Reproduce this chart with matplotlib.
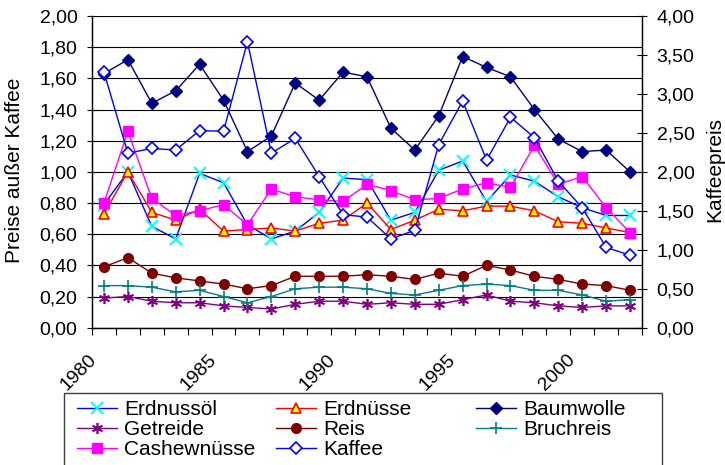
import matplotlib
matplotlib.use("Agg")
import matplotlib.pyplot as plt
from matplotlib.ticker import FuncFormatter, FixedLocator
from matplotlib.patches import Rectangle
from matplotlib.transforms import ScaledTranslation

plt.rcParams['font.family'] = ['Liberation Sans', 'DejaVu Sans']

years = list(range(1980, 2003))
year_labels = ['1980', '1985', '1990', '1995', '2000']

# Preise (linke Achse)
erdnussoel = [0.79, 1.00, 0.65, 0.57, 0.99, 0.93, 0.66, 0.57, 0.62, 0.74, 0.96, 0.95,
              0.69, 0.74, 1.01, 1.07, 0.81, 0.98, 0.94, 0.84, 0.77, 0.72, 0.72]
erdnuesse = [0.73, 1.00, 0.74, 0.69, 0.76, 0.62, 0.63, 0.64, 0.62, 0.67, 0.69, 0.80,
             0.63, 0.69, 0.76, 0.75, 0.78, 0.78, 0.75, 0.68, 0.67, 0.64, 0.61]
baumwolle = [1.63, 1.72, 1.44, 1.52, 1.69, 1.46, 1.13, 1.23, 1.57, 1.46, 1.64, 1.61,
             1.28, 1.14, 1.36, 1.74, 1.67, 1.61, 1.40, 1.21, 1.13, 1.14, 1.00]
getreide = [0.19, 0.20, 0.17, 0.16, 0.16, 0.14, 0.13, 0.12, 0.15, 0.17, 0.17, 0.15,
            0.16, 0.15, 0.15, 0.18, 0.21, 0.17, 0.16, 0.14, 0.13, 0.14, 0.14]
reis = [0.39, 0.45, 0.35, 0.32, 0.30, 0.28, 0.25, 0.27, 0.33, 0.33, 0.33, 0.34,
        0.33, 0.31, 0.35, 0.33, 0.40, 0.37, 0.33, 0.31, 0.28, 0.27, 0.24]
bruchreis = [0.27, 0.27, 0.26, 0.23, 0.24, 0.20, 0.16, 0.20, 0.25, 0.26, 0.26, 0.25,
             0.22, 0.21, 0.24, 0.27, 0.28, 0.27, 0.24, 0.24, 0.21, 0.17, 0.18]
cashew = [0.80, 1.26, 0.83, 0.72, 0.75, 0.79, 0.66, 0.89, 0.84, 0.82, 0.81, 0.92,
          0.88, 0.82, 0.83, 0.89, 0.93, 0.90, 1.17, 0.92, 0.97, 0.77, 0.61]
# Kaffeepreis (rechte Achse)
kaffee = [3.28, 2.24, 2.30, 2.28, 2.53, 2.52, 3.67, 2.24, 2.43, 1.94, 1.45, 1.42,
          1.14, 1.25, 2.35, 2.91, 2.15, 2.70, 2.44, 1.88, 1.54, 1.03, 0.93]

x = list(range(len(years)))

fig = plt.figure(figsize=(7.25, 4.65), dpi=100)
ax1 = fig.add_axes([92/725, 1-327.7/465, 550/725, 311.7/465])
ax2 = ax1.twinx()

lw = 1.0
ms = 7
h_oel, = ax1.plot(x, erdnussoel, color='#0000FF', lw=lw, marker='x', ms=8, mec='#00FFFF', mew=1.4, label='Erdnussöl')
h_nuss, = ax1.plot(x, erdnuesse, color='#FF0000', lw=lw, marker='^', ms=ms, mfc='#FFFF00', mec='#FF0000', mew=1.2, label='Erdnüsse')
h_baum, = ax1.plot(x, baumwolle, color='#000080', lw=lw, marker='D', ms=6, mfc='#000080', mec='#000080', label='Baumwolle')
h_getr, = ax1.plot(x, getreide, color='#800080', lw=lw, marker=(6, 2, 0), ms=8, mec='#800080', mew=1.2, label='Getreide')
h_reis, = ax1.plot(x, reis, color='#800000', lw=lw, marker='o', ms=ms, mfc='#800000', mec='#800000', label='Reis')
h_bruch, = ax1.plot(x, bruchreis, color='#008080', lw=lw, marker='+', ms=8, mec='#008080', mew=1.2, label='Bruchreis')
h_cash, = ax1.plot(x, cashew, color='#FF00FF', lw=lw, marker='s', ms=ms, mfc='#FF00FF', mec='#FF00FF', label='Cashewnüsse')
h_kaf, = ax2.plot(x, kaffee, color='#0000FF', lw=lw, marker='D', ms=6, mfc='white', mec='#0000FF', mew=1.2, label='Kaffee')

comma = FuncFormatter(lambda v, p: f"{v:.2f}".replace('.', ','))

ax1.set_xlim(-0.5, len(x) - 0.5)
ax1.set_ylim(0, 2.0)
ax2.set_ylim(0, 4.0)
ax1.set_yticks([i * 0.2 for i in range(11)])
ax2.set_yticks([i * 0.5 for i in range(9)])
ax1.yaxis.set_major_formatter(comma)
ax2.yaxis.set_major_formatter(comma)

ax1.xaxis.set_major_locator(FixedLocator([years.index(int(y)) for y in year_labels]))
ax1.set_xticklabels(year_labels, rotation=45, ha='right', va='center', rotation_mode='anchor')
ax1.xaxis.set_minor_locator(FixedLocator([i - 0.5 for i in range(len(x) + 1)]))
ax1.tick_params(axis='x', which='major', length=0, pad=21, labelsize=14)
ax1.tick_params(axis='x', which='minor', length=5, width=0.8, direction='out')
ax1.tick_params(axis='y', direction='inout', length=7, width=0.8, pad=7, labelsize=14)
ax2.tick_params(axis='y', direction='inout', length=7, width=0.8, pad=7, labelsize=14)
shift = ScaledTranslation(-0.1, 0, fig.dpi_scale_trans)
for lab in ax1.get_xticklabels():
    lab.set_transform(lab.get_transform() + shift)

ax1.grid(axis='y', color='black', lw=0.8)
ax1.set_axisbelow(True)
for ax in (ax1, ax2):
    ax.spines['top'].set_visible(False)
    for s in ('left', 'right', 'bottom'):
        ax.spines[s].set_linewidth(0.9)

fig.text(15/725, 1-170/465, 'Preise außer Kaffee', rotation=90, ha='center', va='center', fontsize=15)
fig.text(715/725, 1-170/465, 'Kaffeepreis', rotation=90, ha='center', va='center', fontsize=15)

# Legende in drei Spalten
fig.patches.append(Rectangle((64/725, -0.02), (662-64)/725, (1-393/465) + 0.02,
                             transform=fig.transFigure, fill=False, edgecolor='#404040', lw=1.0))
cols = [([h_oel, h_getr, h_cash], 77), ([h_nuss, h_reis, h_kaf], 276), ([h_baum, h_bruch], 476)]
for handles, xpos in cols:
    leg = fig.legend(handles=handles, loc='upper left', bbox_to_anchor=(xpos/725, 1-400/465),
                     frameon=False, fontsize=15, handlelength=1.9, handletextpad=0.35,
                     labelspacing=0.05, borderpad=0, borderaxespad=0)

fig.savefig('out.png', dpi=100)
